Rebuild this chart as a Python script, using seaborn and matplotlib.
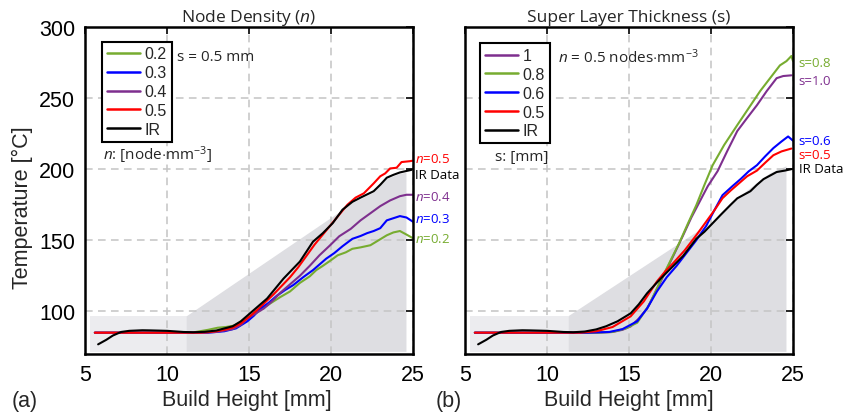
import numpy as np
import pandas as pd
import matplotlib
matplotlib.use("Agg")
import matplotlib.pyplot as plt
import seaborn as sns
from matplotlib.lines import Line2D

# ---------------- data: panel (a) node density ----------------
a_ir_x = [5.8, 6.3, 6.7, 7.2, 7.7, 8.5, 9.0, 10.0, 11.0, 11.6, 12.3, 13.0, 13.5, 14.0, 14.5, 14.9,
          15.5, 16.1, 16.6, 17.1, 17.6, 18.1, 18.5, 18.9, 19.5, 20.1, 20.7, 21.3, 21.8, 22.6, 23.0,
          23.4, 23.8, 24.2, 24.9]
a_ir_y = [76.8, 80, 83, 85.5, 86.3, 86.7, 86.6, 86.3, 85.5, 85.3, 85.6, 86.5, 88, 89.5, 93, 97,
          103, 109, 116, 123, 129, 135, 142, 149, 155, 162, 171.5, 177, 180, 184.5, 189,
          194, 196, 197.7, 199.5]
a_n05_x = [5.6, 12.0, 12.5, 13.0, 13.5, 14.0, 14.5, 15.0, 15.5, 16.0, 16.5, 17.0, 17.5, 18.0, 18.5,
           19.0, 19.5, 20.0, 20.5, 21.0, 21.5, 22.0, 22.6, 23.0, 23.3, 23.6, 24.0, 24.3, 24.8, 25.0]
a_n05_y = [85, 85, 85.3, 86, 87, 88.5, 91.5, 96, 101, 106.5, 112, 118, 124, 131, 139,
           147, 154, 161, 168, 175, 180, 183, 190, 195, 197, 200.5, 201, 205, 205.6, 206]
a_n04_x = [5.6, 12.0, 13.0, 14.0, 14.5, 14.9, 15.4, 15.9, 16.4, 16.9, 17.5, 18.1, 18.7, 19.3, 19.9,
           20.5, 21.2, 21.8, 22.4, 23.0, 23.6, 24.2, 24.6, 25.0]
a_n04_y = [85, 85, 85.5, 87.5, 90.5, 95, 98.5, 102, 107, 113, 119, 125, 132, 139.5, 146,
           152.8, 158, 164, 169, 174, 178, 181, 182, 182]
a_n03_x = [5.6, 12.5, 13.5, 14.2, 14.9, 15.3, 15.7, 16.2, 16.7, 17.2, 17.7, 18.3, 18.9, 19.3, 19.7,
           20.2, 20.7, 21.3, 21.8, 22.2, 22.6, 23.0, 23.4, 23.8, 24.2, 24.6, 25.0]
a_n03_y = [85, 85, 86, 88, 93, 97, 102, 106, 111, 115, 118.5, 124, 129, 133, 137,
           141, 145.8, 151, 153, 155, 156.5, 158.5, 164, 165.5, 167, 166, 163]
a_n02_x = [5.6, 11.5, 12.0, 12.5, 13.1, 13.6, 14.1, 14.6, 15.2, 15.7, 16.3, 16.9, 17.5, 18.1, 18.7,
           19.1, 19.5, 20.0, 20.4, 20.9, 21.3, 21.8, 22.4, 22.9, 23.4, 23.8, 24.2, 24.6, 25.0]
a_n02_y = [85, 85, 86, 87, 88.5, 89, 90, 93, 97, 101, 105.6, 110, 114, 120, 124.6,
           129, 132, 136, 139.4, 141.5, 144, 145, 146.5, 150, 153.5, 155.5, 156.5, 154, 151.4]
a_shade_x = [11.2, 11.2, 20.7, 21.3, 21.8, 22.6, 23.4, 24.2, 24.6, 24.6]
a_shade_y = [71.5, 96.5, 171, 176, 179, 183.5, 193, 196.7, 197.5, 71.5]

# ---------------- data: panel (b) super layer thickness ----------------
b_ir_x = [5.8, 6.3, 6.7, 7.2, 7.7, 8.5, 9.0, 10.0, 11.0, 11.6, 12.3, 13.0, 13.6, 14.3, 15.1, 15.6,
          16.1, 16.6, 17.1, 17.7, 18.3, 18.7, 19.1, 19.6, 20.1, 20.6, 21.2, 21.6, 22.0, 22.4, 22.8,
          23.2, 23.6, 24.0, 24.5, 24.9]
b_ir_y = [76.8, 80, 83, 85.5, 86.3, 86.7, 86.6, 86.3, 85.5, 85.3, 85.8, 87.3, 89.5, 93, 98.6, 105,
          112.7, 119, 125, 132, 139, 145, 151, 156, 162, 168, 175, 179.5, 182, 184.5, 189,
          193, 195.5, 198, 199, 200]
b_s05_x = [5.6, 12.0, 13.0, 14.0, 15.1, 15.9, 16.7, 17.2, 17.7, 18.4, 19.1, 19.7, 20.2, 20.7, 21.2,
           21.7, 22.2, 22.8, 23.3, 23.8, 24.3, 24.9]
b_s05_y = [85, 85, 86, 89, 96.5, 107, 121, 128, 134, 143, 153.5, 163, 171, 179.6, 185,
           190, 195, 199, 204.5, 209.8, 212.5, 214.5]
b_s06_x = [5.6, 12.5, 13.8, 14.6, 15.5, 16.1, 16.7, 17.3, 17.9, 18.5, 19.1, 19.7, 20.2, 20.7, 21.3,
           21.8, 22.3, 22.8, 23.3, 23.8, 24.3, 24.7, 25.0]
b_s06_y = [85, 85, 85.5, 87.5, 93, 102, 114, 124, 132, 141, 150, 160, 171, 181.7, 188,
           193, 198.5, 202.8, 209, 214.8, 219.5, 223, 220]
b_s08_x = [5.6, 13.0, 14.0, 14.8, 15.5, 16.2, 16.9, 17.5, 18.1, 18.6, 19.1, 19.6, 20.1, 20.8, 21.6,
           22.3, 23.0, 23.6, 24.2, 24.6, 24.9, 25.0]
b_s08_y = [85, 85, 85.5, 88, 92, 104, 121, 135, 149, 162, 174.6, 189, 202.8, 217, 231,
           243, 255, 264, 273, 276, 279.6, 276]
b_s10_x = [5.6, 13.0, 14.0, 14.6, 15.1, 15.6, 16.1, 16.6, 17.1, 17.7, 18.3, 18.8, 19.3, 19.8, 20.4,
           21.0, 21.6, 22.2, 22.8, 23.4, 24.0, 24.4, 24.9]
b_s10_y = [85, 85, 85.5, 87, 89.4, 95, 102, 113, 125, 139, 153.5, 166, 177, 188, 198.6,
           213, 226.8, 236, 245, 255, 264, 265.5, 266]
b_shade_x = [11.3, 11.3, 19.3, 20.1, 21.2, 22.0, 22.8, 23.6, 24.2, 24.6, 24.6]
b_shade_y = [71.5, 96.5, 157, 163, 176, 183, 190, 197, 200, 202, 71.5]

rect_x = [5.3, 11.25]
rect_bottom = 71.5
rect_top = 96.5

x_ticks = [5, 10, 15, 20, 25]
y_ticks = [100, 150, 200, 250, 300]

GREEN = "#77ac30"
BLUE = "#0000ff"
PURPLE = "#7e2f8e"
RED = "#ff0000"
BLACK = "#000000"

sns.set_style("white")
plt.rcParams["font.family"] = ["Liberation Sans", "DejaVu Sans"]
plt.rcParams["mathtext.fontset"] = "custom"
plt.rcParams["mathtext.rm"] = "Open Sans"
plt.rcParams["mathtext.it"] = "Open Sans:italic"
plt.rcParams["mathtext.bf"] = "Open Sans:bold"
CAL = ["Open Sans", "DejaVu Sans"]

fig = plt.figure(figsize=(8.45, 4.14), dpi=100)
axL = fig.add_axes([0.1006, 0.1425, 0.3882, 0.7899])
axR = fig.add_axes([0.5503, 0.1425, 0.3882, 0.7899])


def style_axes(ax, show_ylabels):
    ax.set_xlim(5, 25)
    ax.set_ylim(70, 300)
    ax.set_xticks(x_ticks)
    ax.set_yticks(y_ticks)
    ax.set_axisbelow("line")
    ax.grid(True, color="#c4c4c4", ls=(0, (5, 3.5)), lw=1.1)
    ax.tick_params(direction="in", length=5, width=1.2, top=True, right=True,
                   labelsize=15.5, pad=7, colors="black")
    if not show_ylabels:
        ax.tick_params(labelleft=False)
    for s in ax.spines.values():
        s.set_color("black")
        s.set_linewidth(1.8)
        s.set_zorder(5)
    ax.set_xlabel("")
    ax.set_ylabel("")


def shade(ax, sx, sy):
    ax.fill_between(rect_x, [rect_bottom] * 2, [rect_top] * 2, color="#ececef", lw=0, zorder=0.3)
    ax.fill(sx, sy, color="#dedee2", lw=0, zorder=0.3)


def draw(ax, x, y, c):
    df = pd.DataFrame({"x": x, "y": y})
    sns.lineplot(data=df, x="x", y="y", ax=ax, color=c, lw=1.5, estimator=None,
                 sort=False, legend=False, zorder=3)


# ---- panel a ----
shade(axL, a_shade_x, a_shade_y)
draw(axL, a_n02_x, a_n02_y, GREEN)
draw(axL, a_n03_x, a_n03_y, BLUE)
draw(axL, a_n04_x, a_n04_y, PURPLE)
draw(axL, a_n05_x, a_n05_y, RED)
draw(axL, a_ir_x, a_ir_y, BLACK)
style_axes(axL, True)

# ---- panel b ----
shade(axR, b_shade_x, b_shade_y)
draw(axR, b_s10_x, b_s10_y, PURPLE)
draw(axR, b_s08_x, b_s08_y, GREEN)
draw(axR, b_s06_x, b_s06_y, BLUE)
draw(axR, b_s05_x, b_s05_y, RED)
draw(axR, b_ir_x, b_ir_y, BLACK)
style_axes(axR, False)


def legend(ax, labels, colors, anchor):
    handles = [Line2D([0], [0], color=c, lw=1.8) for c in colors]
    lg = ax.legend(handles, labels, loc="upper left", bbox_to_anchor=anchor,
                   borderaxespad=0, frameon=True, fancybox=False, framealpha=1,
                   edgecolor="black", handlelength=2.05, handletextpad=0.3,
                   borderpad=0.3, labelspacing=0.24, prop={"size": 11.5, "family": "Liberation Sans"})
    lg.get_frame().set_linewidth(1.5)
    lg.set_zorder(6)


legend(axL, ["0.2", "0.3", "0.4", "0.5", "IR"], [GREEN, BLUE, PURPLE, RED, BLACK], (0.052, 0.955))
legend(axR, ["1", "0.8", "0.6", "0.5", "IR"], [PURPLE, GREEN, BLUE, RED, BLACK], (0.046, 0.95))

# titles
axL.set_title("Node Density ($n$)", fontsize=12.5, family=CAL, pad=4)
axR.set_title("Super Layer Thickness (s)", fontsize=12.5, family=CAL, pad=4)

# in-axes notes
axL.text(0.28, 0.91, "s = 0.5 mm", transform=axL.transAxes, fontsize=11, family=CAL,
         va="center", ha="left")
axL.text(0.055, 0.61, "$n$: [node$\\cdot$mm$^{-3}$]", transform=axL.transAxes, fontsize=11,
         family=CAL, va="center", ha="left")
axR.text(0.285, 0.91, "$n$ = 0.5 nodes$\\cdot$mm$^{-3}$", transform=axR.transAxes, fontsize=11,
         family=CAL, va="center", ha="left")
axR.text(0.09, 0.605, "s: [mm]", transform=axR.transAxes, fontsize=11, family=CAL,
         va="center", ha="left")

# end labels
end_a = [("$n$=0.5", 207.5, RED), ("IR Data", 196, BLACK), ("$n$=0.4", 181, PURPLE),
         ("$n$=0.3", 165, BLUE), ("$n$=0.2", 151.5, GREEN)]
for t, yv, c in end_a:
    axL.text(25.1, yv, t, color=c, fontsize=9.5, family=CAL, va="center", ha="left", clip_on=False)
end_b = [("s=0.8", 275, GREEN), ("s=1.0", 262.5, PURPLE), ("s=0.6", 220, BLUE),
         ("s=0.5", 210, RED), ("IR Data", 200.5, BLACK)]
for t, yv, c in end_b:
    axR.text(25.35, yv, t, color=c, fontsize=9.5, family=CAL, va="center", ha="left", clip_on=False)

# axis labels and panel tags
fig.text(0.027, 0.498, "Temperature [°C]", rotation=90, fontsize=15.5, va="center", ha="center")
fig.text(247 / 845, 1 - 401 / 414, "Build Height [mm]", fontsize=15.5, va="center", ha="center")
fig.text(629 / 845, 1 - 401 / 414, "Build Height [mm]", fontsize=15.5, va="center", ha="center")
fig.text(12 / 845, 1 - 402 / 414, "(a)", fontsize=15.5, va="center", ha="left")
fig.text(436 / 845, 1 - 402 / 414, "(b)", fontsize=15.5, va="center", ha="left")

fig.savefig("out.png", dpi=100, facecolor="white")
